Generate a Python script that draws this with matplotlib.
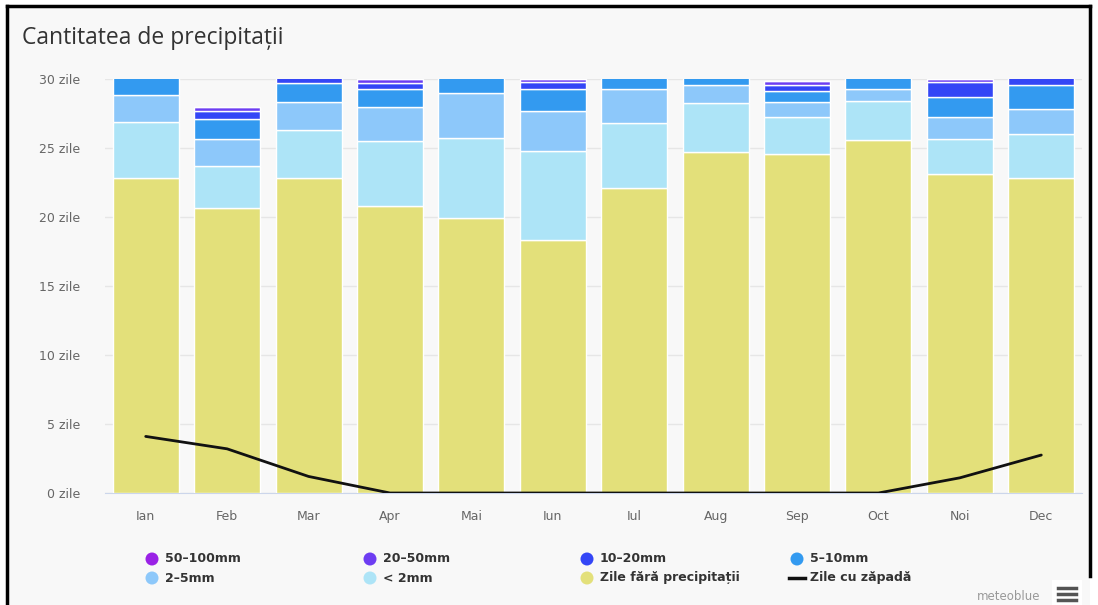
import matplotlib
matplotlib.use("Agg")
import matplotlib.pyplot as plt
from matplotlib.patches import Rectangle, Ellipse
from matplotlib.lines import Line2D
import numpy as np

months = ["Ian", "Feb", "Mar", "Apr", "Mai", "Iun", "Iul", "Aug", "Sep", "Oct", "Noi", "Dec"]

dry      = [22.8, 20.65, 22.8, 20.8, 19.9, 18.3, 22.1, 24.7, 24.6, 25.6, 23.1, 22.85]
lt2      = [4.1, 3.05, 3.5, 4.7, 5.8, 6.45, 4.7, 3.55, 2.65, 2.8, 2.55, 3.2]
mm2_5    = [1.95, 1.95, 2.0, 2.45, 3.25, 2.9, 2.5, 1.35, 1.1, 0.9, 1.6, 1.75]
mm5_10   = [2.1, 1.45, 1.4, 1.35, 2.0, 1.6, 1.6, 1.4, 0.8, 1.6, 1.45, 1.75]
mm10_20  = [0.05, 0.6, 0.8, 0.4, 0.05, 0.5, 0.1, 0.0, 0.4, 0.05, 1.05, 1.2]
mm20_50  = [0.0, 0.25, 0.3, 0.3, 0.0, 0.25, 0.0, 0.0, 0.3, 0.0, 0.25, 0.25]
mm50_100 = [0.0, 0.0, 0.05, 0.0, 0.0, 0.0, 0.0, 0.0, 0.0, 0.0, 0.0, 0.0]
snow     = [4.1, 3.2, 1.2, 0, 0, 0, 0, 0, 0, 0, 1.1, 2.75]

series = [
    ("Zile fără precipitații", dry, "#e3e07a"),
    ("< 2mm", lt2, "#ade4f7"),
    ("2-5mm", mm2_5, "#8dc8fa"),
    ("5-10mm", mm5_10, "#339af0"),
    ("10-20mm", mm10_20, "#3446f6"),
    ("20-50mm", mm20_50, "#6d3df2"),
    ("50-100mm", mm50_100, "#9a22e6"),
]

W, H = 1098, 605
fig = plt.figure(figsize=(W / 100, H / 100), dpi=100)
fig.patch.set_facecolor("white")

# chart background & frame
bg = Rectangle((7 / W, 0), (1090 - 7) / W, 1 - 6 / H, transform=fig.transFigure,
               facecolor="#f8f8f8", edgecolor="none", zorder=-10)
fig.patches.append(bg)
fig.add_artist(Line2D([7 / W, 7 / W], [0, 1 - 6 / H], color="black", lw=2.5, transform=fig.transFigure))
fig.add_artist(Line2D([7 / W, 1090 / W], [1 - 6 / H, 1 - 6 / H], color="black", lw=2.5, transform=fig.transFigure))
fig.add_artist(Line2D([1090 / W, 1090 / W], [1 - 576 / H, 1 - 6 / H], color="black", lw=2.5, transform=fig.transFigure))

left, right, top, bottom = 105, 1082, 79, 493
ax = fig.add_axes([left / W, 1 - bottom / H, (right - left) / W, (bottom - top) / H])
ax.set_facecolor("#f8f8f8")

x = np.arange(len(months))
base = np.zeros(len(months))
for name, vals, col in series:
    v = np.array(vals)
    ax.bar(x, v, bottom=base, width=0.81, color=col, edgecolor="white", linewidth=1.0, zorder=2)
    base += v

ax.plot(x, snow, color="#111111", lw=2, zorder=3, solid_capstyle="round")

ax.set_xlim(-0.5, len(months) - 0.5)
ax.set_ylim(0, 30)
ax.set_yticks([0, 5, 10, 15, 20, 25, 30])
ax.set_yticklabels([f"{v} zile" for v in [0, 5, 10, 15, 20, 25, 30]])
ax.set_xticks(x)
ax.set_xticklabels(months)
ax.grid(axis="y", color="#e6e6e6", lw=1, zorder=0)
ax.set_axisbelow(True)
for s in ["top", "right", "left"]:
    ax.spines[s].set_visible(False)
ax.spines["bottom"].set_color("#ccd6eb")
ax.spines["bottom"].set_zorder(1)
ax.tick_params(axis="both", length=0, colors="#666666", labelsize=9)
ax.tick_params(axis="y", pad=18)
ax.tick_params(axis="x", pad=12)

# title
fig.text(22 / W, 1 - 38 / H, "Cantitatea de precipitații", fontsize=16.5, color="#333333",
         va="center", ha="left", family=["Open Sans", "DejaVu Sans"])

# legend
legend_items = [
    ("50–100mm", "#9a22e6", "dot", 152, 559),
    ("20–50mm", "#6d3df2", "dot", 370, 559),
    ("10–20mm", "#3446f6", "dot", 587, 559),
    ("5–10mm", "#339af0", "dot", 797, 559),
    ("2–5mm", "#8dc8fa", "dot", 152, 578),
    ("< 2mm", "#ade4f7", "dot", 370, 578),
    ("Zile fără precipitații", "#e3e07a", "dot", 587, 578),
    ("Zile cu zăpadă", "#111111", "line", 797, 578),
]
for label, col, kind, mx, my in legend_items:
    if kind == "dot":
        fig.add_artist(Ellipse((mx / W, 1 - my / H), 13 / W, 13 / H, transform=fig.transFigure,
                               facecolor=col, edgecolor="none"))
    else:
        fig.add_artist(Line2D([(mx - 8) / W, (mx + 8) / W], [1 - my / H, 1 - my / H],
                              color=col, lw=2.5, transform=fig.transFigure))
    fig.text((mx + 13) / W, 1 - my / H, label, fontsize=9, color="#333333", fontweight="bold",
             va="center", ha="left")

# credits and menu
fig.text(1040 / W, 1 - 597 / H, "meteoblue", fontsize=8.5, color="#999999", ha="right", va="center")
fig.patches.append(Rectangle((1052 / W, 0), 30 / W, 25 / H, transform=fig.transFigure,
                             facecolor="white", edgecolor="none"))
for yy in [588, 594, 600]:
    fig.add_artist(Line2D([1058 / W, 1076 / W], [1 - yy / H, 1 - yy / H], color="#555555", lw=2.5,
                          transform=fig.transFigure))

fig.savefig("out.png", dpi=100, facecolor=fig.get_facecolor())
